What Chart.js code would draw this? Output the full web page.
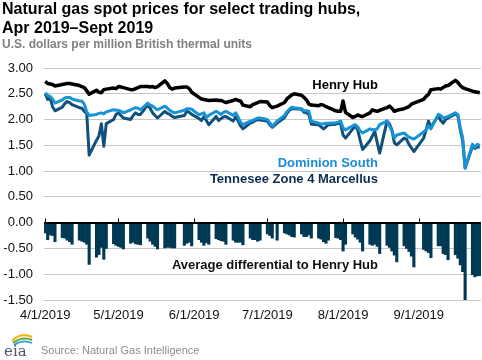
<!DOCTYPE html>
<html>
<head>
<meta charset="utf-8">
<script src="https://cdn.jsdelivr.net/npm/chart.js@4/dist/chart.umd.min.js"></script>
<style>
  body { margin: 0; background: #fff; }
  #wrap { position: relative; width: 482px; height: 360px; overflow: hidden; font-family: "Liberation Sans", Arial, sans-serif; }
  #grafico { position: absolute; left: 0; top: 0; }
  .txt { position: absolute; white-space: nowrap; }
  .titulo { left: 2px; font-size: 16px; font-weight: bold; line-height: 19px; color: #000; }
  .sub { left: 2px; top: 37px; font-size: 12px; font-weight: bold; line-height: 14px; color: #808080; }
  .rot { font-size: 13px; font-weight: bold; line-height: 15px; text-align: right; right: 104px; }
  .fonte { left: 41px; top: 344px; font-size: 11px; line-height: 13px; color: #8c8c8c; }
</style>
</head>
<body>
<div id="wrap">
  <canvas id="grafico" width="482" height="360"></canvas>
  <div class="txt titulo" style="top:-1px">Natural gas spot prices for select trading hubs,<br>Apr 2019–Sept 2019</div>
  <div class="txt sub">U.S. dollars per million British thermal units</div>
  <div class="txt rot" style="top:77px;color:#000">Henry Hub</div>
  <div class="txt rot" style="top:155px;color:#1a8ed6">Dominion South</div>
  <div class="txt rot" style="top:171px;color:#0d2c52">Tennesee Zone 4 Marcellus</div>
  <div class="txt rot" style="top:257px;color:#111">Average differential to Henry Hub</div>
  <svg class="txt" style="left:3px;top:331px" width="32" height="28" viewBox="0 0 32 28">
    <path d="M9 10 Q18 1 29 6" stroke="#f2b51c" stroke-width="2.2" fill="none"/>
    <path d="M10 12 Q19 5 29 9" stroke="#5fa83a" stroke-width="2" fill="none"/>
    <path d="M11 14 Q20 8 29 12" stroke="#2b9fd9" stroke-width="1.8" fill="none"/>
    <text x="1" y="25" font-family="DejaVu Serif, serif" font-size="15" fill="#4a5866">eia</text>
  </svg>
  <div class="txt fonte">Source: Natural Gas Intelligence</div>
</div>
<script>
// dias de negociacao (abr-set 2019)
const datas = [
  '4/1','4/2','4/3','4/4','4/5', '4/8','4/9','4/10','4/11','4/12',
  '4/15','4/16','4/17','4/18','4/19', '4/22','4/23','4/24','4/25','4/26',
  '4/29','4/30','5/1','5/2','5/3', '5/6','5/7','5/8','5/9','5/10',
  '5/13','5/14','5/15','5/16','5/17', '5/20','5/21','5/22','5/23','5/24',
  '5/28','5/29','5/30','5/31', '6/3','6/4','6/5','6/6','6/7',
  '6/10','6/11','6/12','6/13','6/14', '6/17','6/18','6/19','6/20','6/21',
  '6/24','6/25','6/26','6/27','6/28', '7/1','7/2','7/3','7/5',
  '7/8','7/9','7/10','7/11','7/12', '7/15','7/16','7/17','7/18','7/19',
  '7/22','7/23','7/24','7/25','7/26', '7/29','7/30','7/31','8/1','8/2',
  '8/5','8/6','8/7','8/8','8/9', '8/12','8/13','8/14','8/15','8/16',
  '8/19','8/20','8/21','8/22','8/23', '8/26','8/27','8/28','8/29','8/30',
  '9/3','9/4','9/5','9/6', '9/9','9/10','9/11','9/12','9/13',
  '9/16','9/17','9/18','9/19','9/20', '9/23','9/24','9/25','9/26'
];

const henryHub = [
  2.74, 2.70, 2.69, 2.68, 2.65, 2.68, 2.69, 2.70, 2.70, 2.69,
  2.66, 2.64, 2.62, 2.56, 2.49, 2.57, 2.53, 2.52, 2.58, 2.59,
  2.61, 2.60, 2.64, 2.63, 2.62, 2.58, 2.58, 2.60, 2.62, 2.64,
  2.64, 2.63, 2.64, 2.62, 2.64, 2.75, 2.70, 2.62, 2.59, 2.61,
  2.63, 2.63, 2.60, 2.53, 2.43, 2.40, 2.39, 2.38, 2.37,
  2.38, 2.37, 2.37, 2.35, 2.33, 2.37, 2.39, 2.37, 2.36, 2.28,
  2.25, 2.29, 2.31, 2.33, 2.35, 2.34, 2.27, 2.23, 2.26,
  2.33, 2.40, 2.44, 2.48, 2.50, 2.47, 2.43, 2.38, 2.30, 2.28,
  2.27, 2.29, 2.28, 2.25, 2.23, 2.17, 2.16, 2.16, 2.36, 2.14,
  2.04, 2.06, 2.09, 2.07, 2.06, 2.13, 2.19, 2.17, 2.16, 2.18,
  2.23, 2.26, 2.22, 2.16, 2.18, 2.21, 2.23, 2.25, 2.30, 2.32,
  2.39, 2.45, 2.49, 2.58, 2.60, 2.59, 2.62, 2.65, 2.66,
  2.76, 2.72, 2.66, 2.62, 2.60, 2.55, 2.54, 2.53, 2.52
];

const dominionSouth = [
  2.52, 2.47, 2.45, 2.40, 2.32, 2.38, 2.42, 2.43, 2.43, 2.40,
  2.36, 2.36, 2.30, 2.15, 2.08, 2.10, 2.12, 2.13, 2.11, 2.15,
  2.19, 2.18, 2.18, 2.16, 2.13, 2.19, 2.21, 2.23, 2.22, 2.19,
  2.32, 2.28, 2.26, 2.22, 2.19, 2.26, 2.22, 2.18, 2.15, 2.13,
  2.18, 2.21, 2.21, 2.20, 2.09, 2.11, 2.13, 2.04, 2.08,
  2.16, 2.13, 2.10, 2.14, 2.16, 2.08, 2.13, 2.05, 1.95, 1.90,
  1.97, 1.98, 2.01, 2.03, 2.03, 2.00, 1.94, 1.87, 1.97,
  2.08, 2.15, 2.20, 2.24, 2.23, 2.21, 2.17, 2.17, 2.16, 1.97,
  1.93, 1.91, 1.92, 1.93, 1.93, 1.94, 1.95, 1.97, 1.84, 1.80,
  1.88, 1.90, 1.86, 1.78, 1.74, 1.82, 1.80, 1.80, 1.82, 1.90,
  1.97, 1.88, 1.78, 1.64, 1.70, 1.74, 1.70, 1.66, 1.64, 1.62,
  1.76, 1.80, 1.88, 1.82, 2.10, 2.08, 2.03, 2.04, 2.06,
  2.13, 2.10, 1.85, 1.64, 1.06, 1.52, 1.46, 1.52, 1.50
];

const tennesseeZ4 = [
  2.50, 2.39, 2.42, 2.25, 2.17, 2.24, 2.31, 2.35, 2.33, 2.29,
  2.23, 2.22, 2.16, 2.12, 1.31, 1.60, 1.68, 1.92, 1.48, 1.92,
  2.00, 2.10, 2.13, 2.08, 2.03, 2.00, 2.08, 2.13, 2.10, 2.10,
  2.28, 2.22, 2.13, 2.08, 2.03, 2.16, 2.12, 2.10, 2.06, 2.04,
  2.08, 2.16, 2.14, 2.10, 2.02, 1.98, 2.06, 1.98, 1.90,
  2.06, 1.98, 2.02, 2.05, 2.06, 1.97, 2.05, 1.98, 1.88, 1.82,
  1.93, 1.95, 1.98, 2.00, 1.99, 1.97, 1.90, 1.85, 1.93,
  2.04, 2.12, 2.18, 2.21, 2.21, 2.20, 2.14, 2.13, 2.10, 1.91,
  1.90, 1.86, 1.82, 1.86, 1.90, 1.91, 1.93, 1.92, 1.70, 1.64,
  1.82, 1.88, 1.80, 1.60, 1.42, 1.59, 1.68, 1.77, 1.55, 1.35,
  1.97, 1.92, 1.80, 1.55, 1.51, 1.64, 1.62, 1.52, 1.45, 1.38,
  1.64, 1.80, 1.97, 1.85, 2.08, 1.98, 1.93, 2.00, 2.03,
  2.11, 2.08, 1.80, 1.59, 1.06, 1.48, 1.44, 1.47, 1.47
];

const diferencial = [
  -0.20, -0.33, -0.24, -0.25, -0.37, -0.29, -0.30, -0.34, -0.37, -0.42,
  -0.34, -0.36, -0.38, -0.42, -0.81, -0.67, -0.62, -0.48, -0.71, -0.50,
  -0.41, -0.44, -0.46, -0.48, -0.51, -0.40, -0.38, -0.41, -0.42, -0.43,
  -0.30, -0.36, -0.42, -0.46, -0.51, -0.49, -0.48, -0.48, -0.49, -0.49,
  -0.44, -0.40, -0.38, -0.45, -0.33, -0.38, -0.44, -0.39, -0.42,
  -0.31, -0.33, -0.35, -0.36, -0.42, -0.34, -0.38, -0.38, -0.38, -0.43,
  -0.30, -0.33, -0.33, -0.36, -0.34, -0.22, -0.25, -0.30, -0.34,
  -0.20, -0.22, -0.24, -0.27, -0.28, -0.22, -0.27, -0.27, -0.24, -0.30,
  -0.30, -0.32, -0.37, -0.40, -0.34, -0.29, -0.30, -0.33, -0.55, -0.42,
  -0.22, -0.28, -0.32, -0.38, -0.55, -0.42, -0.44, -0.42, -0.46, -0.60,
  -0.44, -0.48, -0.55, -0.63, -0.76, -0.45, -0.50, -0.56, -0.65, -0.86,
  -0.52, -0.55, -0.58, -0.68, -0.45, -0.45, -0.60, -0.62, -0.72,
  -0.62, -0.69, -0.82, -0.95, -1.50, -1.01, -1.05, -1.03, -1.03
];

const ticksX = ['4/1', '5/1', '6/1', '7/1', '8/1', '9/1'];
const rotulosX = ['4/1/2019', '5/1/2019', '6/1/2019', '7/1/2019', '8/1/2019', '9/1/2019'];
const limitesY = [-1.5, 3.0];
const passoY = 0.5;

// converte 'm/d' em dias desde 1 de abril
function diaDoAno(md) {
    const [m, d] = md.split('/').map(Number);
    return (Date.UTC(2019, m - 1, d) - Date.UTC(2019, 3, 1)) / 86400000;
}

const dias = datas.map(diaDoAno);
const diasTicks = ticksX.map(diaDoAno);
const pontos = (serie) => serie.map((v, i) => ({ x: dias[i], y: v }));

const linhaZero = {
    id: 'linhaZero',
    afterDatasetsDraw(chart) {
        const { ctx, scales: { x, y }, chartArea } = chart;
        const y0 = Math.round(y.getPixelForValue(0)) + 0.5;
        ctx.save();
        ctx.strokeStyle = '#000';
        ctx.lineWidth = 1;
        ctx.beginPath();
        ctx.moveTo(chartArea.left, y0);
        ctx.lineTo(chartArea.right, y0);
        diasTicks.forEach(d => {
            const px = Math.round(x.getPixelForValue(d)) + 0.5;
            ctx.moveTo(px, y0);
            ctx.lineTo(px, y0 - 5);
        });
        ctx.stroke();
        ctx.restore();
    }
};

const fonteEixo = { family: '"Liberation Sans", Arial, sans-serif', size: 13 };

new Chart(document.getElementById('grafico'), {
    type: 'bar',
    data: {
        datasets: [
            {
                type: 'line',
                label: 'Henry Hub',
                data: pontos(henryHub),
                borderColor: '#000',
                borderWidth: 3.5,
                pointRadius: 0,
                tension: 0,
                borderJoinStyle: 'round',
                order: 0
            },
            {
                type: 'line',
                label: 'Dominion South',
                data: pontos(dominionSouth),
                borderColor: '#1893d6',
                borderWidth: 3,
                pointRadius: 0,
                tension: 0,
                borderJoinStyle: 'round',
                order: 1
            },
            {
                type: 'line',
                label: 'Tennesee Zone 4 Marcellus',
                data: pontos(tennesseeZ4),
                borderColor: '#12507c',
                borderWidth: 3,
                pointRadius: 0,
                tension: 0,
                borderJoinStyle: 'round',
                order: 2
            },
            {
                label: 'Average differential to Henry Hub',
                data: pontos(diferencial),
                backgroundColor: '#003953',
                borderWidth: 0,
                barPercentage: 1,
                categoryPercentage: 1,
                order: 3
            }
        ]
    },
    options: {
        responsive: false,
        animation: false,
        layout: { padding: { top: 68, right: 1, bottom: 35, left: 0 } },
        plugins: {
            legend: { display: false },
            tooltip: { enabled: false }
        },
        scales: {
            x: {
                type: 'linear',
                offset: false,
                min: -0.5,
                max: 178.5,
                grid: { display: false, drawTicks: false },
                border: { display: false },
                afterBuildTicks: (s) => { s.ticks = diasTicks.map(v => ({ value: v })); },
                afterFit: (s) => { s.height = 25; },
                ticks: {
                    autoSkip: false,
                    maxRotation: 0,
                    padding: 8,
                    color: '#111',
                    font: fonteEixo,
                    callback: (v) => rotulosX[diasTicks.indexOf(v)]
                }
            },
            y: {
                min: limitesY[0],
                max: limitesY[1],
                grid: {
                    color: (c) => c.tick.value === 0 ? '#000' : '#c8c8c8',
                    drawTicks: false
                },
                border: { display: false },
                afterFit: (s) => { s.width = 44; },
                ticks: {
                    stepSize: passoY,
                    padding: 11,
                    color: '#111',
                    font: fonteEixo,
                    callback: (v) => v.toFixed(2)
                }
            }
        }
    },
    plugins: [linhaZero]
});
</script>
</body>
</html>
